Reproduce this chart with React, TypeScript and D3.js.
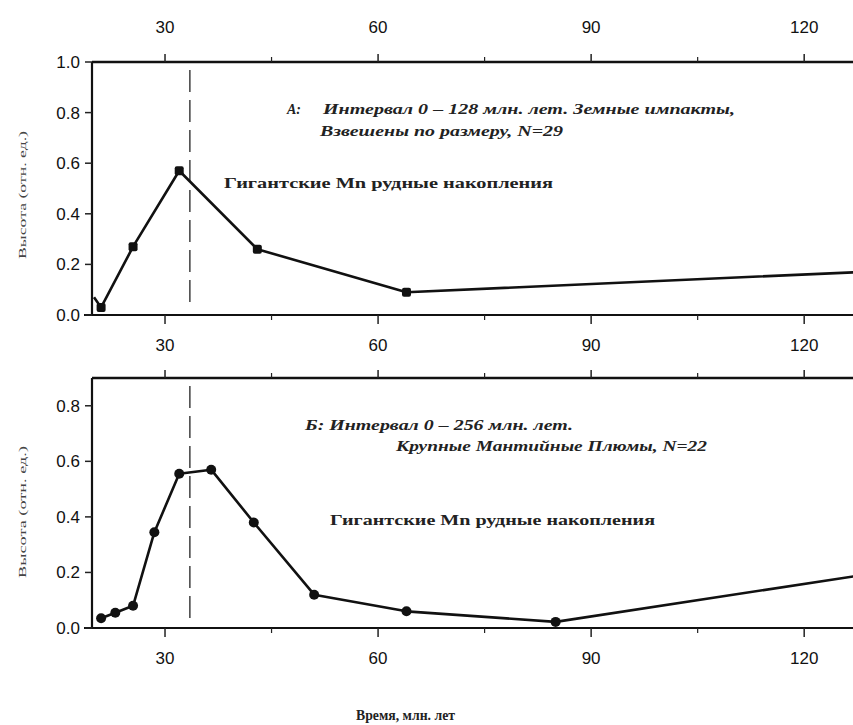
import React from "react";
import * as d3 from "d3";

// panel A: impacts
const topAge = [20, 21, 25.5, 32, 43, 64, 128];
const topHeight = [0.07, 0.03, 0.27, 0.57, 0.26, 0.09, 0.17];
// panel B: plumes
const botAge = [21, 23, 25.5, 28.5, 32, 36.5, 42.5, 51, 64, 85, 128];
const botHeight = [0.035, 0.055, 0.08, 0.345, 0.555, 0.57, 0.38, 0.12, 0.06, 0.022, 0.19];

const xTicks = [30, 60, 90, 120];
const xMinor = [45, 75, 105];
const topYTicks = [0, 0.2, 0.4, 0.6, 0.8, 1.0];
const botYTicks = [0, 0.2, 0.4, 0.6, 0.8];
const mnAge = 33.5;

const W = 853;
const H = 725;
const sans = "'Liberation Sans', Arial, sans-serif";
const serif = "'Liberation Serif', 'Times New Roman', serif";

const x = d3.scaleLinear().domain([20, 128]).range([94, 861]);
const yTop = d3.scaleLinear().domain([0, 1]).range([315, 62]);
const yBot = d3.scaleLinear().domain([0, 0.9]).range([628, 378]);

type PanelProps = {
  ages: number[];
  vals: number[];
  y: d3.ScaleLinear<number, number>;
  yTicks: number[];
  square: boolean;
  markerFrom: number;
  topLabels: boolean;
};

const Panel = ({ ages, vals, y, yTicks, square, markerFrom, topLabels }: PanelProps) => {
  const [y0, y1] = y.range();
  const left = x.range()[0] - 2;
  const pts: [number, number][] = ages.map((a, i) => [x(a), y(vals[i])]);
  const line = d3.line()(pts) || "";
  return (
    <g>
      {/* frame */}
      <line x1={left} x2={W + 5} y1={y1} y2={y1} stroke="#111" strokeWidth={2.6} />
      <line x1={left - 8} x2={W + 5} y1={y0} y2={y0} stroke="#111" strokeWidth={2.2} />
      <line x1={left} x2={left} y1={y1} y2={y0} stroke="#111" strokeWidth={2.2} />
      {xTicks.map((t) => (
        <g key={"t" + t}>
          <line x1={x(t)} x2={x(t)} y1={y1} y2={y1 - 8} stroke="#222" strokeWidth={1.5} />
          <line x1={x(t)} x2={x(t)} y1={y0} y2={y0 + 9} stroke="#222" strokeWidth={1.5} />
          <text x={x(t)} y={y0 + 36} textAnchor="middle" fontFamily={sans} fontSize={17} fill="#111">
            {t}
          </text>
          {topLabels && (
            <text x={x(t)} y={y1 - 29} textAnchor="middle" fontFamily={sans} fontSize={17} fill="#111">
              {t}
            </text>
          )}
        </g>
      ))}
      {xMinor.map((t) => (
        <g key={"m" + t}>
          <line x1={x(t)} x2={x(t)} y1={y1} y2={y1 - 5} stroke="#222" strokeWidth={1.2} />
          <line x1={x(t)} x2={x(t)} y1={y0} y2={y0 + 5} stroke="#222" strokeWidth={1.2} />
        </g>
      ))}
      {yTicks.map((t) => (
        <g key={"y" + t}>
          <line x1={left - 7} x2={left} y1={y(t)} y2={y(t)} stroke="#222" strokeWidth={1.5} />
          <text x={left - 12} y={y(t) + 6} textAnchor="end" fontFamily={sans} fontSize={17} fill="#111">
            {t.toFixed(1)}
          </text>
        </g>
      ))}
      {/* Mn deposit age */}
      <line
        x1={x(mnAge)}
        x2={x(mnAge)}
        y1={y1 + 8}
        y2={y0 - 10}
        stroke="#333"
        strokeWidth={1.4}
        strokeDasharray="22,8"
      />
      <path d={line} fill="none" stroke="#111" strokeWidth={2.6} strokeLinejoin="round" />
      {pts.slice(markerFrom, -1).map(([px, py], i) =>
        square ? (
          <rect key={i} x={px - 4.5} y={py - 4.5} width={9} height={9} rx={2} fill="#111" />
        ) : (
          <circle key={i} cx={px} cy={py} r={5} fill="#111" />
        )
      )}
    </g>
  );
};

export default function App() {
  return (
    <div style={{ position: "fixed", left: 0, top: 0, background: "#fff" }}>
      <svg width={W} height={H} style={{ display: "block" }}>
        <rect width={W} height={H} fill="#fff" />
        <Panel ages={topAge} vals={topHeight} y={yTop} yTicks={topYTicks} square={true} markerFrom={1} topLabels={true} />
        <Panel ages={botAge} vals={botHeight} y={yBot} yTicks={botYTicks} square={false} markerFrom={0} topLabels={false} />

        <text
          transform="translate(26,195) rotate(-90)"
          textAnchor="middle"
          fontFamily={serif}
          fontSize={11}
          fill="#444"
          textLength={128}
          lengthAdjust="spacingAndGlyphs"
        >
          Высота (отн. ед.)
        </text>
        <text
          transform="translate(26,512) rotate(-90)"
          textAnchor="middle"
          fontFamily={serif}
          fontSize={11}
          fill="#444"
          textLength={132}
          lengthAdjust="spacingAndGlyphs"
        >
          Высота (отн. ед.)
        </text>

        <g fontFamily={serif} fontStyle="italic" fontWeight="bold" fontSize={14} fill="#222">
          <text x={287} y={114}>А:</text>
          <text x={323} y={114} textLength={412} lengthAdjust="spacingAndGlyphs">
            Интервал 0 – 128 млн. лет. Земные импакты,
          </text>
          <text x={320} y={136} textLength={243} lengthAdjust="spacingAndGlyphs">
            Взвешены по размеру, N=29
          </text>
          <text x={305} y={430} textLength={268} lengthAdjust="spacingAndGlyphs">
            Б: Интервал 0 – 256 млн. лет.
          </text>
          <text x={396} y={451} textLength={311} lengthAdjust="spacingAndGlyphs">
            Крупные Мантийные Плюмы, N=22
          </text>
        </g>
        <g fontFamily={serif} fontWeight="bold" fontSize={14} fill="#222">
          <text x={224} y={188} textLength={329} lengthAdjust="spacingAndGlyphs">
            Гигантские Mn рудные накопления
          </text>
          <text x={330} y={525} textLength={325} lengthAdjust="spacingAndGlyphs">
            Гигантские Mn рудные накопления
          </text>
        </g>
        <text
          x={356}
          y={720}
          fontFamily={serif}
          fontWeight="bold"
          fontSize={15}
          fill="#222"
          textLength={99}
          lengthAdjust="spacingAndGlyphs"
        >
          Время, млн. лет
        </text>
      </svg>
    </div>
  );
}
